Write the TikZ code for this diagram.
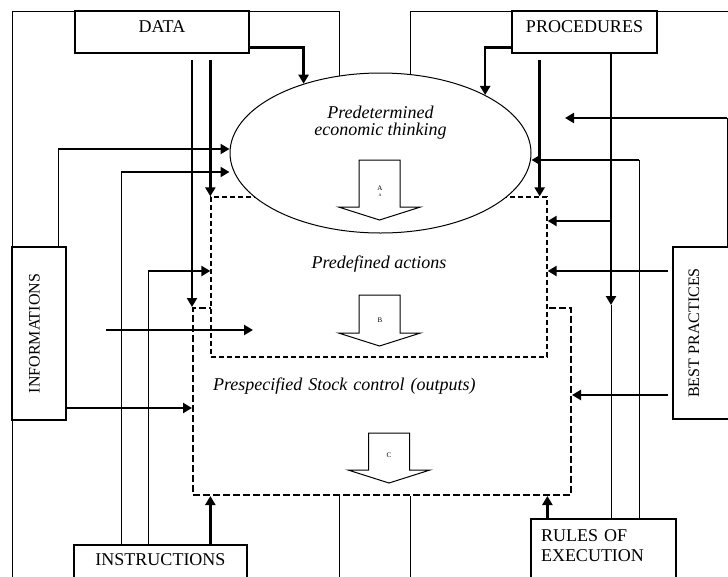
\documentclass[tikz,border=0pt]{standalone}
\usepackage{fontspec}
\setmainfont{Liberation Serif}
\usetikzlibrary{arrows.meta,shapes.geometric,positioning}
\tikzset{%
	block/.style    = {draw, rectangle, line width=1.2pt, inner sep=0pt, font=\fontsize{18}{20}\selectfont},
	sideblock/.style = {block, font=\fontsize{16}{18}\selectfont},
	stage/.style    = {draw, rectangle, fill=white, inner sep=0pt, font=\fontsize{18}{17}\selectfont\itshape},
	thinking/.style = {draw, ellipse, fill=white, line width=1pt, inner sep=0pt, align=center, font=\fontsize{18}{17}\selectfont\itshape},
	arrow/.style    = {line width=2.6pt, -{Triangle[length=9pt,width=10pt]}},
	feed/.style     = {line width=1pt},
	hollow/.style   = {draw, line width=1pt, fill=white},
	tag/.style      = {inner sep=0pt, align=center, font=\fontsize{7}{8}\selectfont},
}
\tikzset{pics/downarrow/.style={code={%
	\draw[hollow] (-20.5,0) -- (-20.5,#1) -- (-41,#1) -- (0,#1+13) -- (41,#1) -- (20.5,#1) -- (20.5,0) -- cycle;}}}

\begin{document}
\begin{tikzpicture}[x=1pt,y=-1pt]
	\useasboundingbox (0,0) rectangle (728,576);
	\clip (0,0) rectangle (728,576);
	% stages
	\node[stage, dash pattern=on 7pt off 3pt, line width=2pt, minimum width=378pt, minimum height=187pt, text width=338pt, inner xsep=20pt, align=left, text height=13pt, text depth=36pt] (stock) at (382,401.5) {Prespecified Stock control (outputs)};
	\node[stage, dash pattern=on 5pt off 3pt, line width=1.3pt, minimum width=336pt, minimum height=160pt, text height=13pt, text depth=31pt] (acts) at (379,277) {Predefined actions};
	\node[thinking, minimum width=301pt, minimum height=160pt, text depth=64pt] (think) at (380.5,153) {Predetermined\\economic thinking};
	
	% boxes
	\node[block, minimum width=174pt, minimum height=42pt, text height=12pt, text depth=11pt] (data) at (162,32) {DATA};
	\node[block, minimum width=145pt, minimum height=42pt, text height=12pt, text depth=11pt] (proc) at (584.5,32) {PROCEDURES};
	\node[sideblock, minimum width=54pt, minimum height=173pt] (info) at (39,333.5) {\rotatebox{90}{INFORMATIONS}\hspace*{9pt}};
	\node[sideblock, minimum width=72pt, minimum height=172pt] (best) at (709,333) {\rotatebox{90}{BEST PRACTICES}\hspace*{30pt}};
	\node[block, minimum width=173pt, minimum height=55pt, text height=12pt, text depth=27pt] (inst) at (160.5,572.5) {INSTRUCTIONS};
	\node[block, minimum width=145pt, minimum height=81pt, text width=125pt, inner xsep=10pt, align=left, text depth=47pt] (rules) at (603.5,559.5) {RULES OF\\EXECUTION};
	
	% hollow arrows
	\pic at (379.5,160) {downarrow=47};
	\pic at (379.5,295) {downarrow=38};
	\pic at (389,433) {downarrow=37};
	\node[tag] (lblA) at (380,191) {A\\[-2pt]{\fontsize{4}{4}\selectfont A}};
	\node[tag] (lblB) at (380,320) {B};
	\node[tag] (lblC) at (389,455) {C};
	
	% waypoints
	\coordinate (dtop) at ([yshift=-6pt]data.south);
	\coordinate (ptop) at ([yshift=-6pt]proc.south);
	\coordinate (pa) at ([xshift=-8pt]acts.north east);
	\coordinate (wInfo1) at (58,149);
	\coordinate (wInst1) at (121,172);
	\coordinate (wInst2) at (148,271);
	\coordinate (wIn) at (106,330);
	\coordinate (wOut) at (253,330);
	\coordinate (wBend) at (611,305);
	\coordinate (wRule) at (639,160);
	\coordinate (wAct1) at (611,221);
	\coordinate (wAct2) at (668,271);
	\coordinate (wStock) at (668,395);
	\coordinate (wBest) at (727,118);
	\coordinate (wFree) at (565,118);
	\coordinate (fb1) at (12,600);
	\coordinate (ft1) at (12,11);
	\coordinate (ft2) at (740,11);
	
	% loop round the frame
	\draw[feed] (fb1) -- (ft1) -| (think.118);
	\draw[feed] (think.69) |- (ft2);
	\draw[feed] (stock.south -| think.118) -- ++(0,100);
	\draw[feed] (stock.south -| think.69) -- ++(0,100);
	
	% left inputs
	\draw[arrow] ([yshift=6pt]data.south east) -| (think.138);
	\draw[arrow] (dtop -| stock.north west) -- (stock.north west);
	\draw[arrow] (dtop -| acts.north west) -- (acts.north west);
	\draw[feed] (info.north -| wInfo1) -- (wInfo1);
	\draw[arrow] (wInfo1) -- (wInfo1 -| think.west);
	\draw[feed] (inst.north -| wInst1) -- (wInst1);
	\draw[arrow] (wInst1) -- (wInst1 -| think.west);
	\draw[feed] (inst.north -| wInst2) -- (wInst2);
	\draw[arrow] (wInst2) -- (wInst2 -| acts.west);
	\draw[arrow] (wIn) -- (wOut);
	\draw[arrow] ([yshift=-74.5pt]info.east) coordinate (wInfo2) -- (wInfo2 -| stock.west);
	\draw[arrow] (inst.north -| acts.west) -- (stock.south -| acts.west);
	
	% right inputs
	\draw[arrow] ([yshift=6pt]proc.south west) -| (think.29);
	\draw[arrow] (ptop -| pa) -- (pa);
	\draw[arrow] (proc.south -| wBend) -- (wBend);
	\draw[feed] (rules.north -| wBend) -- (wBend);
	\draw[feed] (rules.north -| wRule) -- (wRule);
	\draw[arrow] (wRule) -- (wRule -| think.east);
	\draw[arrow] (wAct1) -- (wAct1 -| acts.east);
	\draw[arrow] (wAct2) -- (wAct2 -| acts.east);
	\draw[arrow] (wStock) -- (wStock -| stock.east);
	\draw[feed] (best.north -| wBest) -- (wBest);
	\draw[arrow] (wBest) -- (wFree);
	\draw[arrow] ([xshift=17pt]rules.north west) coordinate (wR) -- (wR |- stock.south);
\end{tikzpicture}
\end{document}
